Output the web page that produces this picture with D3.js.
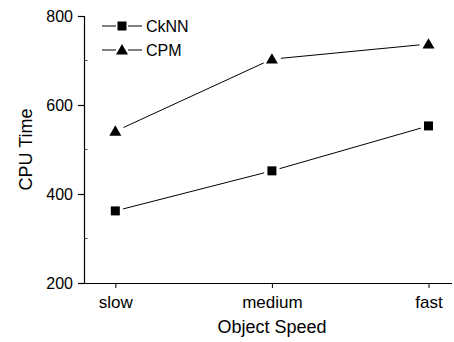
<!DOCTYPE html>
<html>
<head>
<meta charset="utf-8">
<script src="https://cdn.jsdelivr.net/npm/d3@7"></script>
<style>
  html, body { margin: 0; padding: 0; background: #fff; }
  svg text { font-family: Arial, "Liberation Sans", sans-serif; fill: #000; }
</style>
</head>
<body>
<svg id="chart" width="454" height="342"></svg>
<script>
// Object speed categories on the x axis
const categories = ["slow", "medium", "fast"];
// CPU time per method
const cknnValues = [362, 452, 553];
const cpmValues = [541, 703, 737];
const seriesNames = ["CkNN", "CPM"];
const yTicks = [200, 400, 600, 800];
const yMinorTicks = [300, 500, 700];

const svg = d3.select("#chart");
const W = 454, H = 342;

const x = d3.scaleLinear().domain([-0.2, 2.15]).range([84, 452]);
const y = d3.scaleLinear().domain([200, 800]).range([283, 16]);

// y axis
const yAxis = d3.axisLeft(y).tickValues(yTicks).tickSize(6).tickPadding(5).tickFormat(d3.format("d"));
const gy = svg.append("g").attr("transform", "translate(84,0)").call(yAxis);
gy.select(".domain").attr("stroke", "#000").attr("stroke-width", 1.2).attr("d", `M0.5,${y(800)}V${y(200)}`);
gy.selectAll(".tick line").attr("stroke", "#000").attr("stroke-width", 1.2);
gy.selectAll(".tick text").attr("font-size", 16);
// minor ticks on the inside
gy.selectAll(".minor").data(yMinorTicks).enter().append("line")
  .attr("class", "minor")
  .attr("x1", 0.5).attr("x2", 3.5)
  .attr("y1", d => y(d)).attr("y2", d => y(d))
  .attr("stroke", "#444").attr("stroke-width", 1);

// x axis
const xAxis = d3.axisBottom(x).tickValues(d3.range(categories.length))
  .tickFormat(i => categories[i]).tickSize(5).tickPadding(8);
const gx = svg.append("g").attr("transform", `translate(0,${y(200)})`).call(xAxis);
gx.select(".domain").attr("stroke", "#000").attr("stroke-width", 1.2).attr("d", `M${x.range()[0]},0.5H${x.range()[1]}`);
gx.selectAll(".tick line").attr("stroke", "#000").attr("stroke-width", 1);
gx.selectAll(".tick text").attr("font-size", 17);

// axis titles
svg.append("text").attr("x", x(1)).attr("y", 333).attr("text-anchor", "middle")
  .attr("font-size", 18).text("Object Speed");
svg.append("text").attr("transform", `translate(32,${(y(200) + y(800)) / 2}) rotate(-90)`)
  .attr("text-anchor", "middle").attr("font-size", 18).text("CPU Time");

// connecting lines with a small gap around each marker
function drawSeries(values, gap) {
  const pts = values.map((v, i) => [x(i), y(v)]);
  for (let i = 0; i < pts.length - 1; i++) {
    const [x0, y0] = pts[i], [x1, y1] = pts[i + 1];
    const len = Math.hypot(x1 - x0, y1 - y0);
    const ux = (x1 - x0) / len, uy = (y1 - y0) / len;
    svg.append("line")
      .attr("x1", x0 + ux * gap).attr("y1", y0 + uy * gap)
      .attr("x2", x1 - ux * gap).attr("y2", y1 - uy * gap)
      .attr("stroke", "#000").attr("stroke-width", 1);
  }
}
drawSeries(cknnValues, 8);
drawSeries(cpmValues, 9);

const square = d3.symbol().type(d3.symbolSquare).size(81);
const triangle = d3.symbol().type(d3.symbolTriangle).size(62);

svg.selectAll(".sq").data(cknnValues).enter().append("path")
  .attr("class", "sq").attr("d", square)
  .attr("transform", (d, i) => `translate(${x(i)},${y(d)})`).attr("fill", "#000");
svg.selectAll(".tri").data(cpmValues).enter().append("path")
  .attr("class", "tri").attr("d", triangle)
  .attr("transform", (d, i) => `translate(${x(i)},${y(d) + 1})`).attr("fill", "#000");

// legend
const legend = svg.append("g");
const legendRows = [{ name: seriesNames[0], sym: square, dy: 0 }, { name: seriesNames[1], sym: triangle, dy: 1 }];
legendRows.forEach((r, k) => {
  const ly = 26 + k * 24;
  legend.append("line").attr("x1", 102).attr("x2", 116).attr("y1", ly).attr("y2", ly).attr("stroke", "#000");
  legend.append("line").attr("x1", 128).attr("x2", 142).attr("y1", ly).attr("y2", ly).attr("stroke", "#000");
  legend.append("path").attr("d", r.sym).attr("transform", `translate(122,${ly + r.dy})`).attr("fill", "#000");
  legend.append("text").attr("x", 146).attr("y", ly + 6).attr("font-size", 16).text(r.name);
});
</script>
</body>
</html>
